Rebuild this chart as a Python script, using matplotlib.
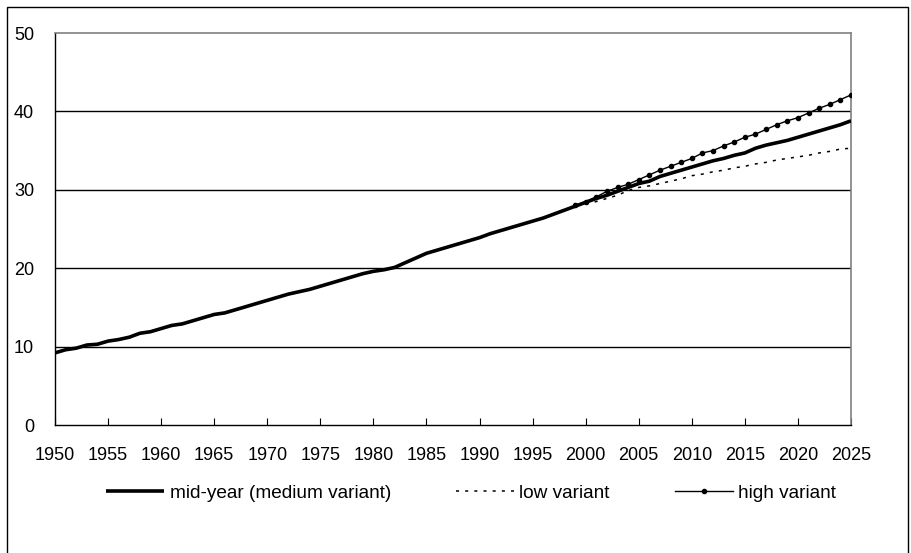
import matplotlib
matplotlib.use("Agg")
import matplotlib.pyplot as plt
from matplotlib.patches import Rectangle

plt.rcParams['font.family'] = ['Liberation Sans', 'DejaVu Sans']

years_medium = list(range(1950, 2026))
medium = [9.2, 9.6, 9.8, 10.2, 10.3, 10.7, 10.9, 11.2, 11.7, 11.9,
          12.3, 12.7, 12.9, 13.3, 13.7, 14.1, 14.3, 14.7, 15.1, 15.5,
          15.9, 16.3, 16.7, 17.0, 17.3, 17.7, 18.1, 18.5, 18.9, 19.3,
          19.6, 19.8, 20.1, 20.7, 21.3, 21.9, 22.3, 22.7, 23.1, 23.5,
          23.9, 24.4, 24.8, 25.2, 25.6, 26.0, 26.4, 26.9, 27.4, 27.9,
          28.4, 28.9, 29.3, 29.8, 30.3, 30.8, 31.1, 31.7, 32.1, 32.5,
          32.9, 33.3, 33.7, 34.0, 34.4, 34.7, 35.3, 35.7, 36.0, 36.3,
          36.7, 37.1, 37.5, 37.9, 38.3, 38.8]

years_low = list(range(2000, 2026))
low = [28.2, 28.5, 28.9, 29.3, 29.9, 30.3, 30.5, 30.8, 31.1, 31.4,
       31.8, 32.0, 32.3, 32.5, 32.8, 33.0, 33.3, 33.5, 33.8, 34.0,
       34.2, 34.4, 34.7, 34.9, 35.2, 35.3]

years_high = list(range(1999, 2026))
high = [28.0, 28.5, 29.1, 29.8, 30.3, 30.7, 31.3, 31.9, 32.5, 33.0,
        33.5, 34.0, 34.7, 35.0, 35.6, 36.1, 36.7, 37.1, 37.7, 38.3,
        38.8, 39.2, 39.8, 40.4, 40.9, 41.5, 42.1]

xticks = list(range(1950, 2026, 5))
yticks = [0, 10, 20, 30, 40, 50]
labels = ['mid-year (medium variant)', 'low variant', 'high variant']

W, H = 911, 553
fig = plt.figure(figsize=(W / 100, H / 100), dpi=100)
ax = fig.add_axes([55 / W, 1 - 425 / H, (851 - 55) / W, (425 - 33) / H])

ax.set_xlim(1950, 2025)
ax.set_ylim(0, 50)
ax.set_xticks(xticks)
ax.set_yticks(yticks)
ax.tick_params(axis='x', direction='in', length=5, width=0.8, pad=16,
               labelsize=13, colors='black')
ax.tick_params(axis='y', length=0, pad=15, labelsize=13)
for y in [10, 20, 30, 40]:
    ax.axhline(y, color='black', lw=1.0, zorder=1)
ax.spines['left'].set_color('black')
ax.spines['bottom'].set_color('black')
ax.spines['left'].set_linewidth(1.0)
ax.spines['bottom'].set_linewidth(1.0)
ax.spines['top'].set_color('#808080')
ax.spines['right'].set_color('#808080')
ax.spines['top'].set_linewidth(1.2)
ax.spines['right'].set_linewidth(1.2)

l1, = ax.plot(years_medium, medium, color='black', lw=2.6, zorder=4,
              solid_capstyle='butt')
l2, = ax.plot(years_low, low, color='black', lw=1.1, linestyle=(0, (2, 4)), zorder=3)
l3, = ax.plot(years_high, high, color='black', lw=1.0, marker='o', markersize=3,
              zorder=3)

fig.legend([l1, l2, l3], labels, loc='center left',
           bbox_to_anchor=(106 / W, 1 - 493 / H),
           ncol=3, frameon=False, fontsize=13.7, handlelength=3.05,
           handletextpad=0.3, columnspacing=3.4, borderpad=0.0,
           borderaxespad=0.0)

fig.patches.append(Rectangle((7 / W, -0.01), (908 - 7) / W, 1 - 7 / H + 0.01,
                             transform=fig.transFigure, fill=False,
                             edgecolor='black', lw=1.0))

fig.savefig('out.png', dpi=100)
